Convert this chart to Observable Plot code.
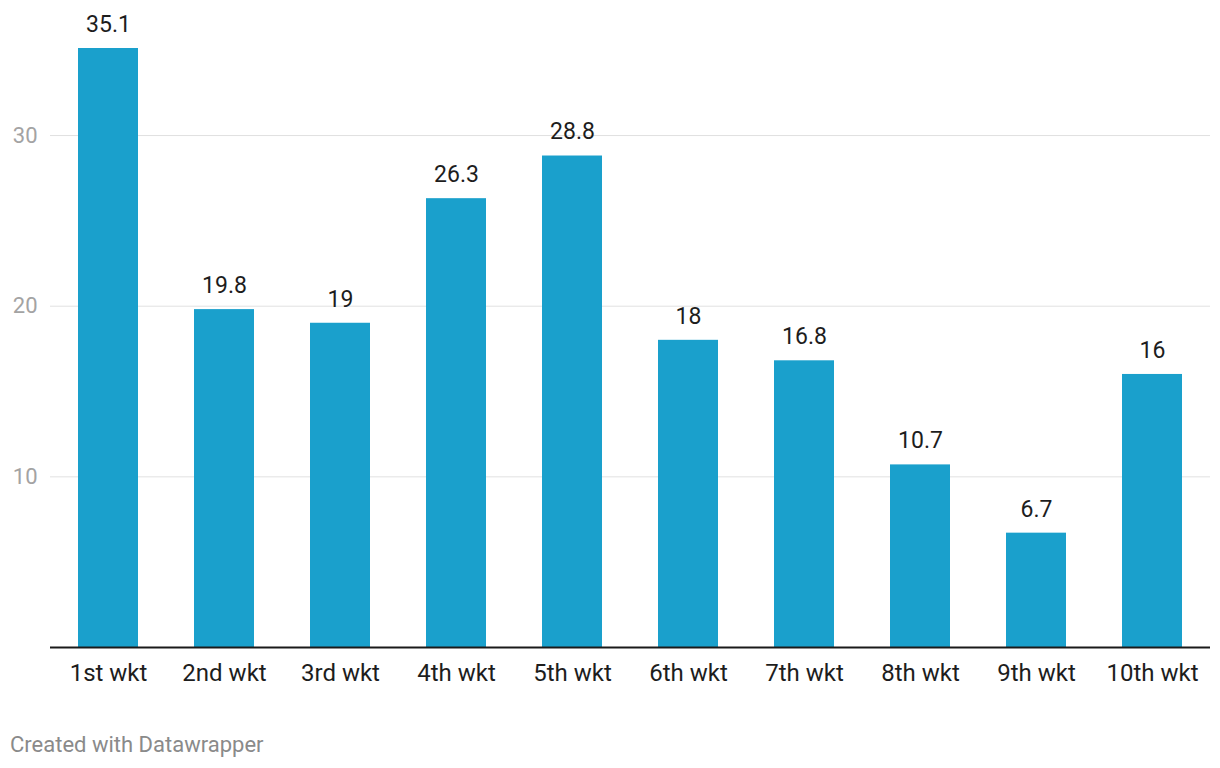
<!DOCTYPE html>
<html>
<head>
<meta charset="utf-8">
<script src="https://cdn.jsdelivr.net/npm/d3@7"></script>
<script src="https://cdn.jsdelivr.net/npm/@observablehq/plot@0.6"></script>
<style>
  body { margin: 0; background: #fff; font-family: Roboto, sans-serif; }
  #footer { font-family: Roboto, sans-serif; font-size: 22px; color: #8a8a8a; margin: 33px 0 0 10px; line-height: 24px; }
</style>
</head>
<body>
<div id="chart"></div>
<div id="footer">Created with Datawrapper</div>
<script>
const categories = ["1st wkt", "2nd wkt", "3rd wkt", "4th wkt", "5th wkt", "6th wkt", "7th wkt", "8th wkt", "9th wkt", "10th wkt"];
const values = [35.1, 19.8, 19, 26.3, 28.8, 18, 16.8, 10.7, 6.7, 16];
const yTicks = [10, 20, 30];

const data = categories.map((c, i) => ({ category: c, value: values[i] }));

const chart = Plot.plot({
  width: 1220,
  height: 700,
  marginTop: 48,
  marginBottom: 53,
  marginLeft: 50,
  marginRight: 10,
  style: { fontFamily: "Roboto, sans-serif", background: "#fff" },
  x: { domain: categories, paddingInner: 0.483, paddingOuter: 0.2415, label: null },
  y: { domain: [0, 35.1], label: null },
  marks: [
    Plot.gridY(yTicks, { stroke: "#e1e1e1", strokeOpacity: 1, strokeWidth: 1 }),
    Plot.axisY(yTicks, { tickSize: 0, tickPadding: 13, fontSize: 22, fill: "#a3a3a3", label: null }),
    Plot.barY(data, { x: "category", y: "value", fill: "#1aa0cc" }),
    Plot.ruleY([0], { stroke: "#1a1a1a", strokeWidth: 2 }),
    Plot.axisX({ tickSize: 0, tickPadding: 16, fontSize: 24, fill: "#1d1d1d", label: null }),
    Plot.text(data, { x: "category", y: "value", text: d => String(d.value), dy: -24, fontSize: 23, fill: "#1d1d1d", lineAnchor: "middle" })
  ]
});
document.getElementById("chart").appendChild(chart);
</script>
</body>
</html>
